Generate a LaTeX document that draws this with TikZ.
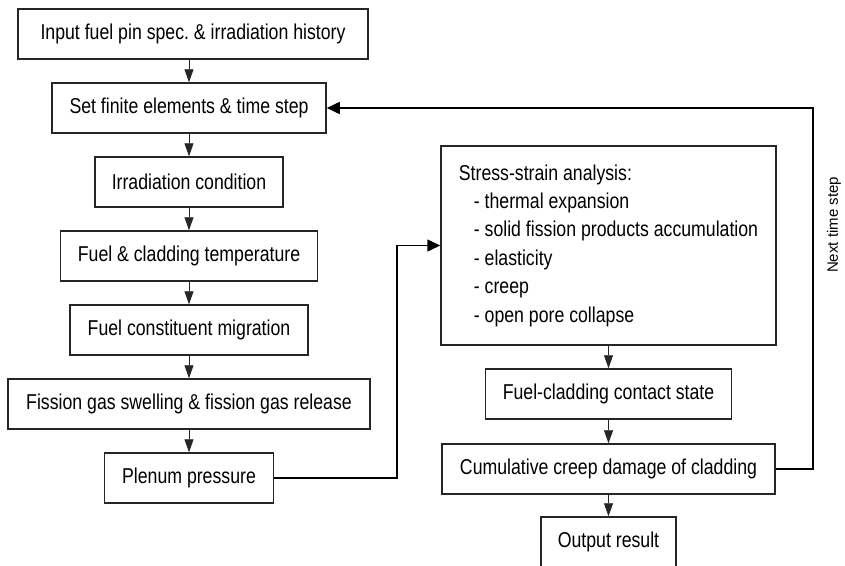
\documentclass[tikz,border=0pt]{standalone}
\usepackage{fontspec}
\setmainfont{Liberation Sans}[FakeStretch=0.823]
\newfontfamily\labelfont{Liberation Sans}
\usetikzlibrary{arrows.meta}
\frenchspacing
\begin{document}
\begin{tikzpicture}[x=1pt,y=-1pt,
  box/.style={draw=black!85, line width=1.5pt, inner sep=0pt, minimum height=50pt,
    font=\fontsize{21.5}{28.4}\selectfont},
  flow/.style={draw=black!85, line width=0.8pt, -{Triangle[length=13pt,width=9pt]}},
  loopline/.style={draw=black, line width=1.5pt, -{Triangle[length=13pt,width=12pt]}}]
\useasboundingbox (0,0) rectangle (845,565);

% left column
\node[box, minimum width=350pt] (input) at (193,34) {Input fuel pin spec. \& irradiation history};
\node[box, minimum width=274pt] (setfe) at (189,108) {Set finite elements \& time step};
\node[box, minimum width=188pt] (irr) at (189,182) {Irradiation condition};
\node[box, minimum width=257pt] (temp) at (189,256) {Fuel \& cladding temperature};
\node[box, minimum width=238pt] (migr) at (189,330) {Fuel constituent migration};
\node[box, minimum width=362pt] (fgs) at (189,404) {Fission gas swelling \& fission gas release};
\node[box, minimum width=169pt] (plen) at (189,478) {Plenum pressure};

% right column
\node[box, minimum width=335pt, minimum height=199pt, align=left] (stress) at (608.5,245.5)
  {Stress-strain analysis:\\
   \hspace*{15pt}- thermal expansion\\
   \hspace*{15pt}- solid fission products accumulation\\
   \hspace*{15pt}- elasticity\\
   \hspace*{15pt}- creep\\
   \hspace*{15pt}- open pore collapse};
\node[box, minimum width=246pt] (contact) at (608.5,394) {Fuel-cladding contact state};
\node[box, minimum width=333pt] (cum) at (608.5,469) {Cumulative creep damage of cladding};
\node[box, minimum width=135pt] (out) at (608.5,542) {Output result};

\node[rotate=90, inner sep=0pt, font=\labelfont\fontsize{15}{18}\selectfont] (nts) at (834,225) {Next time step};

% vertical flow arrows
\draw[flow] (setfe.north |- input.south) -- (setfe.north);
\draw[flow] (setfe.south) -- (irr.north);
\draw[flow] (irr.south) -- (temp.north);
\draw[flow] (temp.south) -- (migr.north);
\draw[flow] (migr.south) -- (fgs.north);
\draw[flow] (fgs.south) -- (plen.north);
\draw[flow] (stress.south) -- (contact.north);
\draw[flow] (contact.south) -- (cum.north);
\draw[flow] (cum.south) -- (out.north);

% loops
\coordinate (loopx) at (813,108);
\draw[loopline] (cum.east) -| (loopx) -- (setfe.east);
\coordinate (pjoin) at (397,245.5);
\draw[loopline] (plen.east) -| (pjoin) -- (stress.west);
\end{tikzpicture}
\end{document}
